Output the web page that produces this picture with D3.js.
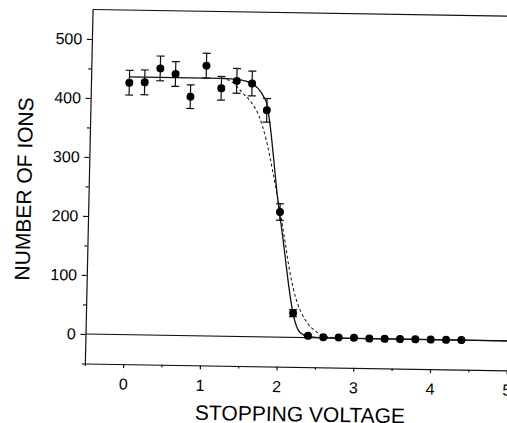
<!DOCTYPE html>
<html><head><meta charset="utf-8">
<script src="https://cdn.jsdelivr.net/npm/d3@7"></script>
<style>html,body{margin:0;padding:0;background:#fff;} svg{display:block;background:#fff;}</style>
</head><body>
<svg id="chart" width="507" height="423"></svg>
<script>
// ---- data ----
const voltages   = [0,0.2,0.4,0.6,0.8,1.0,1.2,1.4,1.6,1.8,2.0,2.2,2.4,2.6,2.8,3.0,3.2,3.4,3.6,3.8,4.0,4.2,4.4];
const ionCounts  = [427,428,452,443,405,458,420,433,429,384,212,41,3,1,1,1,0,0,0,0,0,0,0];
const ionErrors  = [21,21,21,21,20,21,20,21,21,20,14,6,0,0,0,0,0,0,0,0,0,0,0];
const solidFitX  = [0,1.2,1.45,1.58,1.68,1.75,1.8,1.85,1.9,1.96,2.0,2.05,2.1,2.15,2.2,2.25,2.3,2.4,2.6,5.15];
const solidFitY  = [437,437,435,430,421,408,394,356,305,240,206,164,118,75,40,18,8,2,0,0];
const dashFitX   = [1.2,1.35,1.47,1.6,1.7,1.8,1.9,1.99,2.07,2.15,2.24,2.36,2.51,2.65,2.8];
const dashFitY   = [437,430,414,396,374,334,277,221,165,108,63,30,10,2,0];
const xTicks     = [0,1,2,3,4,5];
const xMinorTicks= [-0.5,0.5,1.5,2.5,3.5,4.5];
const yTicks     = [0,100,200,300,400,500];
const yMinorTicks= [-50,50,150,250,350,450];
const xTitle = "STOPPING VOLTAGE";
const yTitle = "NUMBER OF IONS";

// ---- drawing ----
const FONT = "'Liberation Sans', Arial, Helvetica, sans-serif";
const svg = d3.select("#chart");
svg.append("rect").attr("width",507).attr("height",423).attr("fill","#fff");

const ox = 85.5, oy = 334;
const g = svg.append("g")
  .attr("transform", `translate(${ox},${oy}) matrix(1,0.0162,-0.0218,1,0,0) translate(${-ox},${-oy})`);

const x = d3.scaleLinear().domain([-0.5, 5.15]).range([85.5, 518.85]);
const y = d3.scaleLinear().domain([-50, 550]).range([363.5, 9.5]);

const ink = "#111";

// bottom axis
const xAx = g.append("g").attr("transform", `translate(0,${y(-50)})`)
  .call(d3.axisBottom(x).tickValues(xTicks).tickSize(4).tickPadding(10).tickSizeOuter(0).tickFormat(d3.format("d")));
const xMin = g.append("g").attr("transform", `translate(0,${y(-50)})`)
  .call(d3.axisBottom(x).tickValues(xMinorTicks).tickSize(2.5).tickSizeOuter(0).tickFormat(""));
xMin.select(".domain").remove();

// left axis
const yAx = g.append("g").attr("transform", `translate(${x(-0.5)},0)`)
  .call(d3.axisLeft(y).tickValues(yTicks).tickSize(5).tickPadding(4.7).tickSizeOuter(0).tickFormat(d3.format("d")));
const yMin = g.append("g").attr("transform", `translate(${x(-0.5)},0)`)
  .call(d3.axisLeft(y).tickValues(yMinorTicks).tickSize(3).tickSizeOuter(0).tickFormat(""));
yMin.select(".domain").remove();

[xAx, xMin, yAx, yMin].forEach(a => {
  a.selectAll("path,line").attr("stroke", ink).attr("stroke-width", 1.2);
  a.selectAll("text").attr("fill", "#000").style("font-size", "16px").style("font-family", FONT);
});

// top border
g.append("line").attr("x1", x(-0.5)).attr("x2", x(5.15)).attr("y1", y(550)).attr("y2", y(550))
  .attr("stroke", ink).attr("stroke-width", 1.2);
// zero reference line
g.append("line").attr("x1", x(-0.5)).attr("x2", x(5.15)).attr("y1", y(0)).attr("y2", y(0))
  .attr("stroke", ink).attr("stroke-width", 1.2);

// fit curves
const solidData = solidFitX.map((v,i)=>[v, solidFitY[i]]);
const dashData  = dashFitX.map((v,i)=>[v, dashFitY[i]]);
const line = d3.line().x(d=>x(d[0])).y(d=>y(d[1])).curve(d3.curveMonotoneX);
g.append("path").attr("d", line(dashData)).attr("fill","none").attr("stroke", ink)
  .attr("stroke-width", 1).attr("stroke-dasharray", "3,2.5");
g.append("path").attr("d", line(solidData)).attr("fill","none").attr("stroke", ink)
  .attr("stroke-width", 1.3);

// error bars
const pts = voltages.map((v,i)=>({v, c: ionCounts[i], e: ionErrors[i]}));
const eb = g.append("g").attr("stroke", ink).attr("stroke-width", 1.2);
pts.filter(d=>d.e>0).forEach(d=>{
  eb.append("line").attr("x1", x(d.v)).attr("x2", x(d.v)).attr("y1", y(d.c-d.e)).attr("y2", y(d.c+d.e));
  eb.append("line").attr("x1", x(d.v)-4).attr("x2", x(d.v)+4).attr("y1", y(d.c-d.e)).attr("y2", y(d.c-d.e));
  eb.append("line").attr("x1", x(d.v)-4).attr("x2", x(d.v)+4).attr("y1", y(d.c+d.e)).attr("y2", y(d.c+d.e));
});

// markers
g.append("g").selectAll("circle").data(pts).join("circle")
  .attr("cx", d=>x(d.v)).attr("cy", d=>y(d.c)).attr("r", 4).attr("fill", "#000");

// titles
g.append("text").attr("x", 301.7).attr("y", 418).attr("text-anchor","middle")
  .style("font-size","21px").style("font-family",FONT).attr("fill","#000").text(xTitle);
g.append("text").attr("transform","translate(28.2,190) rotate(-90)").attr("text-anchor","middle")
  .style("font-size","21px").style("font-family",FONT).attr("fill","#000").text(yTitle);
</script>
</body></html>
